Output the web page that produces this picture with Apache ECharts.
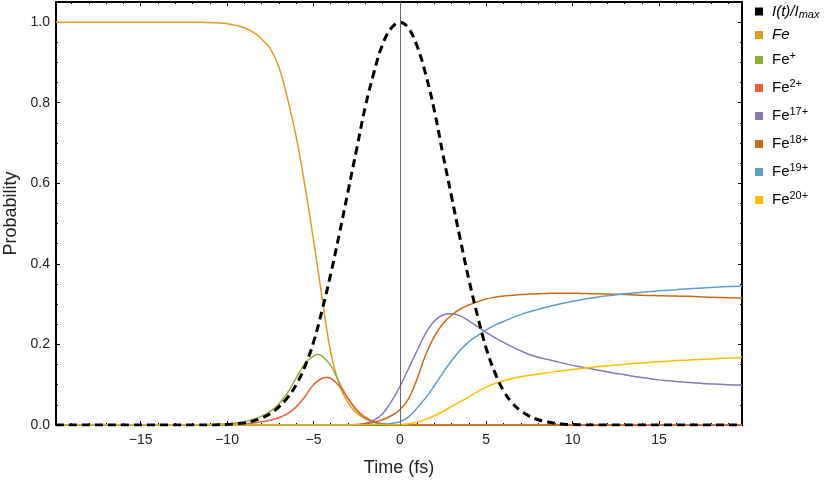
<!DOCTYPE html>
<html>
<head>
<meta charset="utf-8">
<script src="https://cdn.jsdelivr.net/npm/echarts@6/dist/echarts.min.js"></script>
<style>
  html, body { margin: 0; padding: 0; background: #fff; }
  #chart { width: 830px; height: 483px; }
</style>
</head>
<body>
<div id="chart"></div>
<script>
// tick positions
const xMajor = [-15, -10, -5, 0, 5, 10, 15]
const xMinor = [-19, -18, -17, -16, -14, -13, -12, -11, -9, -8, -7, -6, -4, -3, -2, -1,
  1, 2, 3, 4, 6, 7, 8, 9, 11, 12, 13, 14, 16, 17, 18, 19]
const yMajor = [0, 0.2, 0.4, 0.6, 0.8, 1.0]
const yMinor = [0.05, 0.1, 0.15, 0.25, 0.3, 0.35, 0.45, 0.5, 0.55, 0.65, 0.7, 0.75, 0.85, 0.9, 0.95]

// pulse intensity I(t)/Imax
const tPulse = [-19.9, -11, -10.5, -10, -9.5, -9, -8.5, -8, -7.5, -7, -6.5, -6, -5.5, -5, -4.5, -4, -3.5, -3, -2.5, -2, -1.5, -1, -0.5,
  0, 0.5, 1, 1.5, 2, 2.5, 3, 3.5, 4, 4.5, 5, 5.5, 6, 6.5, 7, 7.5, 8, 8.5, 9, 9.5, 10, 10.5, 11, 19.8]
const pPulse = [0, 0, 0.0005, 0.001, 0.003, 0.005, 0.01, 0.017, 0.028, 0.045, 0.068, 0.1, 0.145, 0.205, 0.285, 0.375, 0.475, 0.58, 0.685, 0.79, 0.875, 0.945, 0.985,
  1.0, 0.985, 0.94, 0.87, 0.78, 0.67, 0.565, 0.46, 0.36, 0.27, 0.19, 0.13, 0.085, 0.055, 0.035, 0.022, 0.013, 0.008, 0.004, 0.002, 0.001, 0.0005, 0, 0]

// Fe (neutral)
const tFe = [-19.9, -12, -11.5, -11, -10.5, -10, -9.5, -9, -8.5, -8, -7.5, -7, -6.5, -6, -5.5, -5, -4.5, -4, -3.5, -3, -2.5, -2, -1.5, -1, -0.5, 0, 19.8]
const pFe = [1, 1, 0.9995, 0.999, 0.998, 0.996, 0.992, 0.986, 0.975, 0.958, 0.934, 0.888, 0.81, 0.715, 0.595, 0.46, 0.315, 0.18, 0.1, 0.055, 0.03, 0.015, 0.007, 0.003, 0.001, 0, 0]

// Fe+
const tFe1 = [-19.9, -11.5, -11, -10.5, -10, -9.5, -9, -8.5, -8, -7.5, -7, -6.5, -6, -5.5, -5, -4.75, -4.5, -4, -3.5, -3, -2.5, -2, -1.5, -1, -0.5, 0, 19.8]
const pFe1 = [0, 0, 0.001, 0.002, 0.003, 0.005, 0.008, 0.014, 0.022, 0.034, 0.052, 0.08, 0.117, 0.152, 0.171, 0.175, 0.171, 0.148, 0.105, 0.065, 0.036, 0.017, 0.007, 0.002, 0, 0, 0]

// Fe2+
const tFe2 = [-19.9, -10.5, -10, -9.5, -9, -8.5, -8, -7.5, -7, -6.5, -6, -5.5, -5, -4.5, -4.25, -4, -3.5, -3, -2.5, -2, -1.5, -1, -0.5, 0, 19.8]
const pFe2 = [0, 0, 0.001, 0.002, 0.003, 0.005, 0.008, 0.012, 0.018, 0.028, 0.045, 0.07, 0.1, 0.116, 0.118, 0.116, 0.096, 0.066, 0.038, 0.019, 0.008, 0.003, 0.001, 0, 0]

// Fe17+
const tFe17 = [-19.9, -3, -2.5, -2, -1.5, -1, -0.5, 0, 0.5, 1, 1.5, 2, 2.5, 3, 3.5, 4, 4.5, 5, 5.5, 6, 6.5, 7, 7.5, 8, 8.5, 9, 9.5, 10,
  10.5, 11, 11.5, 12, 12.5, 13, 13.5, 14, 14.5, 15, 15.5, 16, 16.5, 17, 17.5, 18, 18.5, 19, 19.5, 19.8]
const pFe17 = [0, 0, 0.001, 0.004, 0.012, 0.028, 0.058, 0.095, 0.14, 0.185, 0.228, 0.258, 0.273, 0.276, 0.271, 0.258, 0.244, 0.23, 0.217, 0.205, 0.194, 0.184, 0.175, 0.168, 0.163, 0.158, 0.153, 0.148,
  0.144, 0.14, 0.136, 0.132, 0.128, 0.125, 0.121, 0.118, 0.115, 0.112, 0.11, 0.108, 0.106, 0.105, 0.103, 0.102, 0.101, 0.1, 0.099, 0.099]

// Fe18+
const tFe18 = [-19.9, -3, -2.5, -2, -1.5, -1, -0.5, 0, 0.5, 1, 1.5, 2, 2.5, 3, 3.5, 4, 4.5, 5, 5.5, 6, 6.5, 7, 7.5, 8, 8.5, 9, 9.5, 10,
  10.5, 11, 11.5, 12, 12.5, 13, 13.5, 14, 14.5, 15, 15.5, 16, 16.5, 17, 17.5, 18, 18.5, 19, 19.5, 19.8]
const pFe18 = [0, 0, 0.001, 0.003, 0.007, 0.013, 0.023, 0.038, 0.065, 0.115, 0.175, 0.22, 0.252, 0.273, 0.288, 0.298, 0.306, 0.313, 0.317, 0.32, 0.322, 0.324, 0.325, 0.326, 0.3265, 0.327, 0.327, 0.327,
  0.3265, 0.326, 0.3255, 0.325, 0.3245, 0.324, 0.323, 0.322, 0.3215, 0.321, 0.3205, 0.32, 0.3195, 0.319, 0.318, 0.317, 0.3165, 0.316, 0.3155, 0.315]

// Fe19+
const tFe19 = [-19.9, -2, -1.5, -1, -0.5, 0, 0.5, 1, 1.5, 2, 2.5, 3, 3.5, 4, 4.5, 5, 5.5, 6, 6.5, 7, 7.5, 8, 8.5, 9, 9.5, 10,
  10.5, 11, 11.5, 12, 12.5, 13, 13.5, 14, 14.5, 15, 15.5, 16, 16.5, 17, 17.5, 18, 18.5, 19, 19.5, 19.8]
const pFe19 = [0, 0, 0.001, 0.002, 0.004, 0.008, 0.02, 0.042, 0.068, 0.098, 0.13, 0.16, 0.186, 0.207, 0.222, 0.236, 0.248, 0.257, 0.266, 0.274, 0.281, 0.287, 0.293, 0.298, 0.303, 0.307,
  0.311, 0.3145, 0.3178, 0.3207, 0.3232, 0.3255, 0.3276, 0.3295, 0.3313, 0.333, 0.3346, 0.336, 0.3374, 0.3387, 0.34, 0.3412, 0.3424, 0.3435, 0.3445, 0.345]

// Fe20+
const tFe20 = [-19.9, -0.5, 0, 0.5, 1, 1.5, 2, 2.5, 3, 3.5, 4, 4.5, 5, 5.5, 6, 6.5, 7, 7.5, 8, 8.5, 9, 9.5, 10,
  10.5, 11, 11.5, 12, 12.5, 13, 13.5, 14, 14.5, 15, 15.5, 16, 16.5, 17, 17.5, 18, 18.5, 19, 19.5, 19.8]
const pFe20 = [0, 0, 0.001, 0.003, 0.007, 0.014, 0.023, 0.034, 0.046, 0.058, 0.07, 0.083, 0.094, 0.103, 0.11, 0.1155, 0.12, 0.1235, 0.1265, 0.1295, 0.1325, 0.135, 0.1375,
  0.14, 0.1425, 0.145, 0.147, 0.149, 0.151, 0.1525, 0.154, 0.1555, 0.157, 0.1585, 0.16, 0.161, 0.162, 0.163, 0.164, 0.165, 0.166, 0.167, 0.168]

const font = 'Liberation Sans, Arial, Helvetica, sans-serif'

const zip = (t, p) => t.map((v, i) => [v, p[i]])

// legend labels with italic / super- and subscripts
const legendText = {
  'I(t)/Imax': '{it|I(t)/I}{sub|max}',
  'Fe': '{it|Fe}',
  'Fe+': '{n|Fe}{sup|+}',
  'Fe2+': '{n|Fe}{sup|2+}',
  'Fe17+': '{n|Fe}{sup|17+}',
  'Fe18+': '{n|Fe}{sup|18+}',
  'Fe19+': '{n|Fe}{sup|19+}',
  'Fe20+': '{n|Fe}{sup|20+}'
}

const curves = [
  { name: 'Fe', color: '#E19C24', t: tFe, p: pFe },
  { name: 'Fe+', color: '#8FB032', t: tFe1, p: pFe1 },
  { name: 'Fe2+', color: '#EB6235', t: tFe2, p: pFe2 },
  { name: 'Fe17+', color: '#8778B3', t: tFe17, p: pFe17 },
  { name: 'Fe18+', color: '#C56E1A', t: tFe18, p: pFe18 },
  { name: 'Fe19+', color: '#5D9EC7', t: tFe19, p: pFe19 },
  { name: 'Fe20+', color: '#FFBF00', t: tFe20, p: pFe20 }
]

const minusFmt = v => String(v).replace('-', '\u2212')

function xAx(opt) {
  return Object.assign({
    type: 'value', min: -19.9, max: 19.8,
    splitLine: { show: false },
    axisLine: { show: false, onZero: false },
    axisLabel: { show: false },
    axisTick: { show: false }
  }, opt)
}
function yAx(opt) {
  return Object.assign({
    type: 'value', min: 0, max: 1.05,
    splitLine: { show: false },
    axisLine: { show: false, onZero: false },
    axisLabel: { show: false },
    axisTick: { show: false }
  }, opt)
}

const series = [{
  name: 'I(t)/Imax',
  type: 'line',
  data: zip(tPulse, pPulse),
  showSymbol: false,
  smooth: 0.4,
  itemStyle: { color: '#000' },
  lineStyle: { color: '#000', width: 3, type: [8, 5] },
  z: 3
}]

curves.forEach((c, i) => {
  const s = {
    name: c.name,
    type: 'line',
    data: zip(c.t, c.p),
    showSymbol: false,
    smooth: 0.4,
    itemStyle: { color: c.color },
    lineStyle: { color: c.color, width: 1.5 },
    z: 2
  }
  if (i === 0) {
    s.markLine = {
      silent: true,
      symbol: ['none', 'none'],
      label: { show: false },
      animation: false,
      lineStyle: { color: '#666', width: 1, type: 'solid' },
      data: [{ xAxis: 0 }]
    }
  }
  series.push(s)
})

const chart = echarts.init(document.getElementById('chart'))
chart.setOption({
  animation: false,
  backgroundColor: '#fff',
  grid: { left: 56, right: 88, top: 2, bottom: 58, outerBoundsMode: 'none' },
  legend: {
    orient: 'vertical',
    left: 755,
    top: 4,
    padding: 0,
    icon: 'rect',
    itemWidth: 8,
    itemHeight: 8,
    itemGap: 7,
    itemStyle: { borderWidth: 0 },
    data: ['I(t)/Imax'].concat(curves.map(c => c.name)),
    formatter: name => legendText[name],
    textStyle: {
      color: '#000',
      fontFamily: font,
      rich: {
        it: { fontSize: 15, fontStyle: 'italic', fontFamily: font, lineHeight: 18, padding: [0, 0, 0, 4], color: '#000' },
        n: { fontSize: 15, fontFamily: font, lineHeight: 20, padding: [3, 0, 3, 4], color: '#000' },
        sup: { fontSize: 11, fontFamily: font, lineHeight: 11, verticalAlign: 'top', color: '#000' },
        sub: { fontSize: 11, fontStyle: 'italic', fontFamily: font, lineHeight: 11, verticalAlign: 'bottom', color: '#000' }
      }
    }
  },
  xAxis: [
    xAx({
      position: 'bottom',
      name: 'Time (fs)',
      nameLocation: 'middle',
      nameGap: 34,
      nameTextStyle: { fontSize: 18, fontFamily: font, color: '#222' },
      axisLine: { show: true, onZero: false, lineStyle: { color: '#000', width: 2 } },
      axisTick: { show: true, inside: true, length: 4, customValues: xMajor, lineStyle: { color: '#000', width: 1 } },
      axisLabel: { show: true, customValues: xMajor, margin: 8, fontSize: 14, fontFamily: font, color: '#222', formatter: minusFmt }
    }),
    xAx({
      position: 'bottom',
      axisTick: { show: true, inside: true, length: 2, customValues: xMinor, lineStyle: { color: '#000', width: 1 } }
    }),
    xAx({
      position: 'top',
      axisLine: { show: true, onZero: false, lineStyle: { color: '#000', width: 2 } },
      axisTick: { show: true, inside: true, length: 4, customValues: xMajor, lineStyle: { color: '#000', width: 1 } }
    }),
    xAx({
      position: 'top',
      axisTick: { show: true, inside: true, length: 2, customValues: xMinor, lineStyle: { color: '#000', width: 1 } }
    })
  ],
  yAxis: [
    yAx({
      position: 'left',
      name: 'Probability',
      nameLocation: 'middle',
      nameGap: 33,
      nameTextStyle: { fontSize: 18, fontFamily: font, color: '#222' },
      axisLine: { show: true, onZero: false, lineStyle: { color: '#000', width: 2 } },
      axisTick: { show: true, inside: true, length: 4, customValues: yMajor, lineStyle: { color: '#000', width: 1 } },
      axisLabel: { show: true, customValues: yMajor, margin: 6, fontSize: 14, fontFamily: font, color: '#222', formatter: v => v.toFixed(1) }
    }),
    yAx({
      position: 'left',
      axisTick: { show: true, inside: true, length: 2, customValues: yMinor, lineStyle: { color: '#000', width: 1 } }
    }),
    yAx({
      position: 'right',
      axisLine: { show: true, onZero: false, lineStyle: { color: '#000', width: 2 } },
      axisTick: { show: true, inside: true, length: 4, customValues: yMajor, lineStyle: { color: '#000', width: 1 } }
    }),
    yAx({
      position: 'right',
      axisTick: { show: true, inside: true, length: 2, customValues: yMinor, lineStyle: { color: '#000', width: 1 } }
    })
  ],
  series: series
})
</script>
</body>
</html>
